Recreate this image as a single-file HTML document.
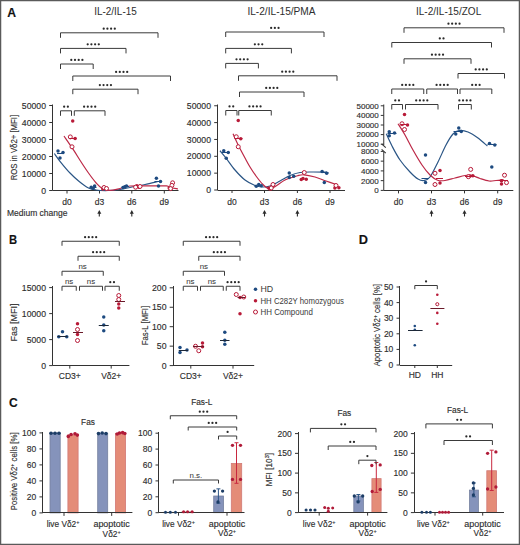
<!DOCTYPE html><html><head><meta charset="utf-8"><style>html,body{margin:0;padding:0;background:#fff;}svg{display:block;font-family:"Liberation Sans",sans-serif;}</style></head><body>
<svg width="520" height="545" viewBox="0 0 520 545" font-family="Liberation Sans"><style>text{stroke:#2e2e2e;stroke-width:0.14px;}</style>
<rect x="0" y="0" width="520" height="545" fill="#fff"/>
<rect x="0.6" y="0.6" width="518.8" height="543.8" fill="none" stroke="#5a5a5a" stroke-width="1.3"/>
<text x="11.6" y="17.09" font-size="12.2" text-anchor="middle" fill="#111" font-weight="bold" stroke="#111" stroke-width="0.35">A</text>
<text x="13" y="244.09" font-size="12.2" text-anchor="middle" fill="#111" font-weight="bold" stroke="#111" stroke-width="0.35" textLength="8.12" lengthAdjust="spacingAndGlyphs">B</text>
<text x="13.3" y="406.89" font-size="12.2" text-anchor="middle" fill="#111" font-weight="bold" stroke="#111" stroke-width="0.35" textLength="8.72" lengthAdjust="spacingAndGlyphs">C</text>
<text x="363.4" y="244.39" font-size="12.2" text-anchor="middle" fill="#111" font-weight="bold" stroke="#111" stroke-width="0.35" textLength="9.22" lengthAdjust="spacingAndGlyphs">D</text>
<text x="115.5" y="15.12" font-size="10.6" text-anchor="middle" fill="#2e2e2e" font-weight="normal" style="stroke-width:0" textLength="42.46" lengthAdjust="spacingAndGlyphs">IL-2/IL-15</text>
<text x="281.5" y="15.22" font-size="10.6" text-anchor="middle" fill="#2e2e2e" font-weight="normal" style="stroke-width:0" textLength="68.16" lengthAdjust="spacingAndGlyphs">IL-2/IL-15/PMA</text>
<text x="448.6" y="15.22" font-size="10.6" text-anchor="middle" fill="#2e2e2e" font-weight="normal" style="stroke-width:0" textLength="65.26" lengthAdjust="spacingAndGlyphs">IL-2/IL-15/ZOL</text>
<line x1="52.5" y1="104.5" x2="52.5" y2="190.5" stroke="#333333" stroke-width="1"/>
<line x1="49.2" y1="190.5" x2="52.5" y2="190.5" stroke="#333333" stroke-width="1"/>
<text x="46" y="193.63" font-size="8.7" text-anchor="end" fill="#2e2e2e" font-weight="normal" >0</text>
<line x1="49.2" y1="173.5" x2="52.5" y2="173.5" stroke="#333333" stroke-width="1"/>
<text x="46" y="176.63" font-size="8.7" text-anchor="end" fill="#2e2e2e" font-weight="normal" >10000</text>
<line x1="49.2" y1="156.5" x2="52.5" y2="156.5" stroke="#333333" stroke-width="1"/>
<text x="46" y="159.63" font-size="8.7" text-anchor="end" fill="#2e2e2e" font-weight="normal" >20000</text>
<line x1="49.2" y1="139.5" x2="52.5" y2="139.5" stroke="#333333" stroke-width="1"/>
<text x="46" y="142.63" font-size="8.7" text-anchor="end" fill="#2e2e2e" font-weight="normal" >30000</text>
<line x1="49.2" y1="122.5" x2="52.5" y2="122.5" stroke="#333333" stroke-width="1"/>
<text x="46" y="125.63" font-size="8.7" text-anchor="end" fill="#2e2e2e" font-weight="normal" >40000</text>
<line x1="49.2" y1="105.5" x2="52.5" y2="105.5" stroke="#333333" stroke-width="1"/>
<text x="46" y="108.63" font-size="8.7" text-anchor="end" fill="#2e2e2e" font-weight="normal" >50000</text>
<line x1="52.5" y1="190.5" x2="178.5" y2="190.5" stroke="#333333" stroke-width="1"/>
<line x1="67" y1="190.5" x2="67" y2="193.5" stroke="#333333" stroke-width="1"/>
<line x1="99.5" y1="190.5" x2="99.5" y2="193.5" stroke="#333333" stroke-width="1"/>
<line x1="131.8" y1="190.5" x2="131.8" y2="193.5" stroke="#333333" stroke-width="1"/>
<line x1="164.3" y1="190.5" x2="164.3" y2="193.5" stroke="#333333" stroke-width="1"/>
<text x="67" y="205.06" font-size="8.5" text-anchor="middle" fill="#2e2e2e" font-weight="normal" >d0</text>
<text x="99.5" y="205.06" font-size="8.5" text-anchor="middle" fill="#2e2e2e" font-weight="normal" >d3</text>
<text x="131.8" y="205.06" font-size="8.5" text-anchor="middle" fill="#2e2e2e" font-weight="normal" >d6</text>
<text x="164.3" y="205.06" font-size="8.5" text-anchor="middle" fill="#2e2e2e" font-weight="normal" >d9</text>
<text x="14.3" y="150.7" font-size="8.6" text-anchor="middle" fill="#2e2e2e" font-weight="normal" transform="rotate(-90 14.3 147.6)"  textLength="65.36" lengthAdjust="spacingAndGlyphs">ROS in Vδ2+ [MFI]</text>
<path d="M60.5 37.8V32.8H158V37.8" stroke="#3a3a3a" stroke-width="1" fill="none" />
<circle cx="103.7" cy="28.7" r="1.12" fill="#2a2a2a"/>
<circle cx="107.4" cy="28.7" r="1.12" fill="#2a2a2a"/>
<circle cx="111.1" cy="28.7" r="1.12" fill="#2a2a2a"/>
<circle cx="114.8" cy="28.7" r="1.12" fill="#2a2a2a"/>
<path d="M60.5 53.4V48.4H126V53.4" stroke="#3a3a3a" stroke-width="1" fill="none" />
<circle cx="87.7" cy="44.3" r="1.12" fill="#2a2a2a"/>
<circle cx="91.4" cy="44.3" r="1.12" fill="#2a2a2a"/>
<circle cx="95.1" cy="44.3" r="1.12" fill="#2a2a2a"/>
<circle cx="98.8" cy="44.3" r="1.12" fill="#2a2a2a"/>
<path d="M60.5 69V64H93.2V69" stroke="#3a3a3a" stroke-width="1" fill="none" />
<circle cx="71.3" cy="59.9" r="1.12" fill="#2a2a2a"/>
<circle cx="75" cy="59.9" r="1.12" fill="#2a2a2a"/>
<circle cx="78.7" cy="59.9" r="1.12" fill="#2a2a2a"/>
<circle cx="82.4" cy="59.9" r="1.12" fill="#2a2a2a"/>
<path d="M72.8 81V76H170.5V81" stroke="#3a3a3a" stroke-width="1" fill="none" />
<circle cx="116.1" cy="71.9" r="1.12" fill="#2a2a2a"/>
<circle cx="119.8" cy="71.9" r="1.12" fill="#2a2a2a"/>
<circle cx="123.5" cy="71.9" r="1.12" fill="#2a2a2a"/>
<circle cx="127.2" cy="71.9" r="1.12" fill="#2a2a2a"/>
<path d="M72.8 94.2V89.2H138V94.2" stroke="#3a3a3a" stroke-width="1" fill="none" />
<circle cx="99.85" cy="85.1" r="1.12" fill="#2a2a2a"/>
<circle cx="103.55" cy="85.1" r="1.12" fill="#2a2a2a"/>
<circle cx="107.25" cy="85.1" r="1.12" fill="#2a2a2a"/>
<circle cx="110.95" cy="85.1" r="1.12" fill="#2a2a2a"/>
<path d="M60.5 115.8V110.8H71.5V115.8" stroke="#3a3a3a" stroke-width="1" fill="none" />
<circle cx="64.15" cy="106.7" r="1.12" fill="#2a2a2a"/>
<circle cx="67.85" cy="106.7" r="1.12" fill="#2a2a2a"/>
<path d="M74.3 115.8V110.8H105V115.8" stroke="#3a3a3a" stroke-width="1" fill="none" />
<circle cx="84.1" cy="106.7" r="1.12" fill="#2a2a2a"/>
<circle cx="87.8" cy="106.7" r="1.12" fill="#2a2a2a"/>
<circle cx="91.5" cy="106.7" r="1.12" fill="#2a2a2a"/>
<circle cx="95.2" cy="106.7" r="1.12" fill="#2a2a2a"/>
<path d="M54.3 153.5 C55.38 154.97 58.18 159.05 60.8 162.3 C63.42 165.55 66.93 169.8 70 173 C73.07 176.2 76.12 179 79.2 181.5 C82.28 184 85.7 186.58 88.5 188 C91.3 189.42 92.75 189.58 96 190 C99.25 190.42 104 190.58 108 190.5 C112 190.42 116 190.08 120 189.5 C124 188.92 127.83 187.83 132 187 C136.17 186.17 140.67 185.42 145 184.5 C149.33 183.58 155.83 182 158 181.5" stroke="#2a5585" stroke-width="1.2" fill="none" />
<path d="M64 136 C65.5 138.2 70.2 144.95 73 149.2 C75.8 153.45 78.22 157.53 80.8 161.5 C83.38 165.47 85.93 169.42 88.5 173 C91.07 176.58 93.9 180.42 96.2 183 C98.5 185.58 100 187.28 102.3 188.5 C104.6 189.72 107.05 190.3 110 190.3 C112.95 190.3 116.63 189.22 120 188.5 C123.37 187.78 125.2 186.43 130.2 186 C135.2 185.57 143.95 185.92 150 185.9 C156.05 185.88 163.17 185.63 166.5 185.9 C169.83 186.17 168.08 186.98 170 187.5 C171.92 188.02 176.67 188.75 178 189" stroke="#bc2846" stroke-width="1.2" fill="none" />
<circle cx="58" cy="151" r="1.75" fill="#1d4a80"/>
<circle cx="63" cy="152.5" r="1.75" fill="#1d4a80"/>
<circle cx="60" cy="158" r="1.75" fill="#1d4a80"/>
<line x1="57" y1="153.5" x2="64" y2="153.5" stroke="#1d4a80" stroke-width="1"/>
<circle cx="72.7" cy="121" r="1.75" fill="#b81a38"/>
<circle cx="75.1" cy="138.6" r="1.75" fill="#b81a38"/>
<circle cx="70.3" cy="136.9" r="2" fill="#fff" stroke="#b81a38" stroke-width="1"/>
<circle cx="72" cy="146.8" r="2" fill="#fff" stroke="#b81a38" stroke-width="1"/>
<line x1="69.5" y1="138.5" x2="76.5" y2="138.5" stroke="#b81a38" stroke-width="1"/>
<circle cx="91.2" cy="187.3" r="1.75" fill="#1d4a80"/>
<circle cx="94.6" cy="186" r="1.75" fill="#1d4a80"/>
<circle cx="93" cy="188.3" r="1.75" fill="#1d4a80"/>
<line x1="90" y1="187.5" x2="96.5" y2="187.5" stroke="#1d4a80" stroke-width="1"/>
<circle cx="102.8" cy="189" r="1.75" fill="#b81a38"/>
<circle cx="104" cy="187.5" r="2" fill="#fff" stroke="#b81a38" stroke-width="1"/>
<circle cx="106.5" cy="188.5" r="2" fill="#fff" stroke="#b81a38" stroke-width="1"/>
<circle cx="124.8" cy="186.8" r="1.75" fill="#1d4a80"/>
<circle cx="126.5" cy="186" r="1.75" fill="#1d4a80"/>
<circle cx="123" cy="187.6" r="1.75" fill="#1d4a80"/>
<line x1="122" y1="186.5" x2="129" y2="186.5" stroke="#1d4a80" stroke-width="1"/>
<circle cx="136.9" cy="185.8" r="1.75" fill="#b81a38"/>
<circle cx="138.9" cy="187.2" r="1.75" fill="#b81a38"/>
<circle cx="135.6" cy="187.2" r="2" fill="#fff" stroke="#b81a38" stroke-width="1"/>
<circle cx="140" cy="186.5" r="2" fill="#fff" stroke="#b81a38" stroke-width="1"/>
<circle cx="156.4" cy="178.2" r="1.75" fill="#1d4a80"/>
<circle cx="160.5" cy="181.4" r="1.75" fill="#1d4a80"/>
<circle cx="158.5" cy="185.9" r="1.75" fill="#1d4a80"/>
<line x1="154.5" y1="181.5" x2="161.5" y2="181.5" stroke="#1d4a80" stroke-width="1"/>
<circle cx="169.2" cy="187.9" r="1.75" fill="#b81a38"/>
<circle cx="172.6" cy="182.8" r="2" fill="#fff" stroke="#b81a38" stroke-width="1"/>
<circle cx="171.9" cy="185.4" r="2" fill="#fff" stroke="#b81a38" stroke-width="1"/>
<circle cx="170.6" cy="188.6" r="2" fill="#fff" stroke="#b81a38" stroke-width="1"/>
<line x1="217.5" y1="104.5" x2="217.5" y2="190" stroke="#333333" stroke-width="1"/>
<line x1="214.2" y1="190" x2="217.5" y2="190" stroke="#333333" stroke-width="1"/>
<text x="211" y="193.13" font-size="8.7" text-anchor="end" fill="#2e2e2e" font-weight="normal" >0</text>
<line x1="214.2" y1="173.15" x2="217.5" y2="173.15" stroke="#333333" stroke-width="1"/>
<text x="211" y="176.28" font-size="8.7" text-anchor="end" fill="#2e2e2e" font-weight="normal" >10000</text>
<line x1="214.2" y1="156.3" x2="217.5" y2="156.3" stroke="#333333" stroke-width="1"/>
<text x="211" y="159.43" font-size="8.7" text-anchor="end" fill="#2e2e2e" font-weight="normal" >20000</text>
<line x1="214.2" y1="139.45" x2="217.5" y2="139.45" stroke="#333333" stroke-width="1"/>
<text x="211" y="142.58" font-size="8.7" text-anchor="end" fill="#2e2e2e" font-weight="normal" >30000</text>
<line x1="214.2" y1="122.6" x2="217.5" y2="122.6" stroke="#333333" stroke-width="1"/>
<text x="211" y="125.73" font-size="8.7" text-anchor="end" fill="#2e2e2e" font-weight="normal" >40000</text>
<line x1="214.2" y1="105.75" x2="217.5" y2="105.75" stroke="#333333" stroke-width="1"/>
<text x="211" y="108.88" font-size="8.7" text-anchor="end" fill="#2e2e2e" font-weight="normal" >50000</text>
<line x1="217.5" y1="190.5" x2="345" y2="190.5" stroke="#333333" stroke-width="1"/>
<line x1="232" y1="190" x2="232" y2="193" stroke="#333333" stroke-width="1"/>
<line x1="264.5" y1="190" x2="264.5" y2="193" stroke="#333333" stroke-width="1"/>
<line x1="297.4" y1="190" x2="297.4" y2="193" stroke="#333333" stroke-width="1"/>
<line x1="330" y1="190" x2="330" y2="193" stroke="#333333" stroke-width="1"/>
<text x="232" y="205.06" font-size="8.5" text-anchor="middle" fill="#2e2e2e" font-weight="normal" >d0</text>
<text x="264.5" y="205.06" font-size="8.5" text-anchor="middle" fill="#2e2e2e" font-weight="normal" >d3</text>
<text x="297.4" y="205.06" font-size="8.5" text-anchor="middle" fill="#2e2e2e" font-weight="normal" >d6</text>
<text x="330" y="205.06" font-size="8.5" text-anchor="middle" fill="#2e2e2e" font-weight="normal" >d9</text>
<path d="M225.7 37V32H324V37" stroke="#3a3a3a" stroke-width="1" fill="none" />
<circle cx="271.15" cy="27.9" r="1.12" fill="#2a2a2a"/>
<circle cx="274.85" cy="27.9" r="1.12" fill="#2a2a2a"/>
<circle cx="278.55" cy="27.9" r="1.12" fill="#2a2a2a"/>
<path d="M225.7 53.4V48.4H291.4V53.4" stroke="#3a3a3a" stroke-width="1" fill="none" />
<circle cx="254.85" cy="44.3" r="1.12" fill="#2a2a2a"/>
<circle cx="258.55" cy="44.3" r="1.12" fill="#2a2a2a"/>
<circle cx="262.25" cy="44.3" r="1.12" fill="#2a2a2a"/>
<path d="M225.7 68.4V63.4H258.4V68.4" stroke="#3a3a3a" stroke-width="1" fill="none" />
<circle cx="236.5" cy="59.3" r="1.12" fill="#2a2a2a"/>
<circle cx="240.2" cy="59.3" r="1.12" fill="#2a2a2a"/>
<circle cx="243.9" cy="59.3" r="1.12" fill="#2a2a2a"/>
<circle cx="247.6" cy="59.3" r="1.12" fill="#2a2a2a"/>
<path d="M238.5 80.8V75.8H337V80.8" stroke="#3a3a3a" stroke-width="1" fill="none" />
<circle cx="282.2" cy="71.7" r="1.12" fill="#2a2a2a"/>
<circle cx="285.9" cy="71.7" r="1.12" fill="#2a2a2a"/>
<circle cx="289.6" cy="71.7" r="1.12" fill="#2a2a2a"/>
<circle cx="293.3" cy="71.7" r="1.12" fill="#2a2a2a"/>
<path d="M239.5 97V92H304V97" stroke="#3a3a3a" stroke-width="1" fill="none" />
<circle cx="266.2" cy="87.9" r="1.12" fill="#2a2a2a"/>
<circle cx="269.9" cy="87.9" r="1.12" fill="#2a2a2a"/>
<circle cx="273.6" cy="87.9" r="1.12" fill="#2a2a2a"/>
<circle cx="277.3" cy="87.9" r="1.12" fill="#2a2a2a"/>
<path d="M225.75 115.5V110.5H237V115.5" stroke="#3a3a3a" stroke-width="1" fill="none" />
<circle cx="229.53" cy="106.4" r="1.12" fill="#2a2a2a"/>
<circle cx="233.22" cy="106.4" r="1.12" fill="#2a2a2a"/>
<path d="M238.75 115.5V110.5H271.25V115.5" stroke="#3a3a3a" stroke-width="1" fill="none" />
<circle cx="249.45" cy="106.4" r="1.12" fill="#2a2a2a"/>
<circle cx="253.15" cy="106.4" r="1.12" fill="#2a2a2a"/>
<circle cx="256.85" cy="106.4" r="1.12" fill="#2a2a2a"/>
<circle cx="260.55" cy="106.4" r="1.12" fill="#2a2a2a"/>
<path d="M220 150.75 C221 151.96 223.5 154.79 226 158 C228.5 161.21 231.83 166.33 235 170 C238.17 173.67 241.67 177.42 245 180 C248.33 182.58 252.17 184.33 255 185.5 C257.83 186.67 259.5 186.92 262 187 C264.5 187.08 267 187 270 186 C273 185 276.67 182.75 280 181 C283.33 179.25 286.67 176.92 290 175.5 C293.33 174.08 296.33 173.08 300 172.5 C303.67 171.92 307.5 172.05 312 172 C316.5 171.95 324.5 172.17 327 172.2" stroke="#2a5585" stroke-width="1.2" fill="none" />
<path d="M233 133.75 C233.95 135.79 236.7 141.96 238.7 146 C240.7 150.04 243.17 154.58 245 158 C246.83 161.42 247.87 163.5 249.7 166.5 C251.53 169.5 253.78 173 256 176 C258.22 179 260.88 182.38 263 184.5 C265.12 186.62 266.58 188.5 268.75 188.75 C270.92 189 273.29 187.46 276 186 C278.71 184.54 281.42 181.71 285 180 C288.58 178.29 294.33 176.62 297.5 175.75 C300.67 174.88 301.08 174.59 304 174.8 C306.92 175.01 311.33 175.97 315 177 C318.67 178.03 322.33 179.7 326 181 C329.67 182.3 335.17 184.17 337 184.8" stroke="#bc2846" stroke-width="1.2" fill="none" />
<circle cx="223.75" cy="150.75" r="1.75" fill="#1d4a80"/>
<circle cx="228.25" cy="152.5" r="1.75" fill="#1d4a80"/>
<circle cx="226.25" cy="158.25" r="1.75" fill="#1d4a80"/>
<line x1="222" y1="152.5" x2="230" y2="152.5" stroke="#1d4a80" stroke-width="1"/>
<circle cx="238.25" cy="120.5" r="1.75" fill="#b81a38"/>
<circle cx="240.75" cy="138.75" r="1.75" fill="#b81a38"/>
<circle cx="236.25" cy="136.75" r="2" fill="#fff" stroke="#b81a38" stroke-width="1"/>
<circle cx="238.25" cy="146.75" r="2" fill="#fff" stroke="#b81a38" stroke-width="1"/>
<line x1="234.5" y1="138.5" x2="242.5" y2="138.5" stroke="#b81a38" stroke-width="1"/>
<circle cx="256.25" cy="186.25" r="1.75" fill="#1d4a80"/>
<circle cx="258.75" cy="184.5" r="1.75" fill="#1d4a80"/>
<circle cx="261.25" cy="185.75" r="1.75" fill="#1d4a80"/>
<circle cx="268.75" cy="188" r="1.75" fill="#b81a38"/>
<circle cx="270" cy="189" r="1.75" fill="#b81a38"/>
<circle cx="273" cy="184.5" r="2" fill="#fff" stroke="#b81a38" stroke-width="1"/>
<circle cx="271.25" cy="188" r="2" fill="#fff" stroke="#b81a38" stroke-width="1"/>
<circle cx="289.25" cy="173" r="1.75" fill="#1d4a80"/>
<circle cx="289.25" cy="177.5" r="1.75" fill="#1d4a80"/>
<circle cx="293.75" cy="176.25" r="1.75" fill="#1d4a80"/>
<circle cx="301.25" cy="179.5" r="1.75" fill="#b81a38"/>
<circle cx="306.25" cy="179.25" r="1.75" fill="#b81a38"/>
<circle cx="303" cy="178.5" r="1.75" fill="#b81a38"/>
<circle cx="304.25" cy="172.5" r="2" fill="#fff" stroke="#b81a38" stroke-width="1"/>
<circle cx="322.1" cy="171.6" r="1.75" fill="#1d4a80"/>
<circle cx="326.7" cy="173.3" r="1.75" fill="#1d4a80"/>
<circle cx="324.3" cy="182.6" r="1.75" fill="#1d4a80"/>
<line x1="321" y1="172.5" x2="328.5" y2="172.5" stroke="#1d4a80" stroke-width="1"/>
<circle cx="334.9" cy="188.1" r="1.75" fill="#b81a38"/>
<circle cx="338.9" cy="187.7" r="1.75" fill="#b81a38"/>
<circle cx="336" cy="185.5" r="2" fill="#fff" stroke="#b81a38" stroke-width="1"/>
<line x1="383.75" y1="104.5" x2="383.75" y2="145.2" stroke="#333333" stroke-width="1"/>
<line x1="383.75" y1="151.8" x2="383.75" y2="190.4" stroke="#333333" stroke-width="1"/>
<line x1="381.6" y1="143.8" x2="385.8" y2="147.6" stroke="#333333" stroke-width="1.1"/>
<line x1="381.6" y1="149.3" x2="385.8" y2="153.1" stroke="#333333" stroke-width="1.1"/>
<line x1="380.75" y1="105.8" x2="383.75" y2="105.8" stroke="#333333" stroke-width="1"/>
<text x="378.75" y="108.68" font-size="8" text-anchor="end" fill="#2e2e2e" font-weight="normal" >50000</text>
<line x1="380.75" y1="115.4" x2="383.75" y2="115.4" stroke="#333333" stroke-width="1"/>
<text x="378.75" y="118.28" font-size="8" text-anchor="end" fill="#2e2e2e" font-weight="normal" >40000</text>
<line x1="380.75" y1="125" x2="383.75" y2="125" stroke="#333333" stroke-width="1"/>
<text x="378.75" y="127.88" font-size="8" text-anchor="end" fill="#2e2e2e" font-weight="normal" >30000</text>
<line x1="380.75" y1="134.6" x2="383.75" y2="134.6" stroke="#333333" stroke-width="1"/>
<text x="378.75" y="137.48" font-size="8" text-anchor="end" fill="#2e2e2e" font-weight="normal" >20000</text>
<line x1="380.75" y1="144.2" x2="383.75" y2="144.2" stroke="#333333" stroke-width="1"/>
<text x="378.75" y="147.08" font-size="8" text-anchor="end" fill="#2e2e2e" font-weight="normal" >10000</text>
<line x1="380.75" y1="151.4" x2="383.75" y2="151.4" stroke="#333333" stroke-width="1"/>
<text x="378.75" y="154.28" font-size="8" text-anchor="end" fill="#2e2e2e" font-weight="normal" >8000</text>
<line x1="380.75" y1="161.15" x2="383.75" y2="161.15" stroke="#333333" stroke-width="1"/>
<text x="378.75" y="164.03" font-size="8" text-anchor="end" fill="#2e2e2e" font-weight="normal" >6000</text>
<line x1="380.75" y1="170.9" x2="383.75" y2="170.9" stroke="#333333" stroke-width="1"/>
<text x="378.75" y="173.78" font-size="8" text-anchor="end" fill="#2e2e2e" font-weight="normal" >4000</text>
<line x1="380.75" y1="180.65" x2="383.75" y2="180.65" stroke="#333333" stroke-width="1"/>
<text x="378.75" y="183.53" font-size="8" text-anchor="end" fill="#2e2e2e" font-weight="normal" >2000</text>
<line x1="380.75" y1="190.4" x2="383.75" y2="190.4" stroke="#333333" stroke-width="1"/>
<text x="378.75" y="193.28" font-size="8" text-anchor="end" fill="#2e2e2e" font-weight="normal" >0</text>
<line x1="383.75" y1="190.5" x2="513.3" y2="190.5" stroke="#333333" stroke-width="1"/>
<line x1="398.5" y1="190.4" x2="398.5" y2="193.4" stroke="#333333" stroke-width="1"/>
<line x1="431.5" y1="190.4" x2="431.5" y2="193.4" stroke="#333333" stroke-width="1"/>
<line x1="464.5" y1="190.4" x2="464.5" y2="193.4" stroke="#333333" stroke-width="1"/>
<line x1="497.7" y1="190.4" x2="497.7" y2="193.4" stroke="#333333" stroke-width="1"/>
<text x="398.5" y="204.56" font-size="8.5" text-anchor="middle" fill="#2e2e2e" font-weight="normal" >d0</text>
<text x="431.5" y="204.56" font-size="8.5" text-anchor="middle" fill="#2e2e2e" font-weight="normal" >d3</text>
<text x="464.5" y="204.56" font-size="8.5" text-anchor="middle" fill="#2e2e2e" font-weight="normal" >d6</text>
<text x="497.7" y="204.56" font-size="8.5" text-anchor="middle" fill="#2e2e2e" font-weight="normal" >d9</text>
<path d="M404 32.8V27.8H504V32.8" stroke="#3a3a3a" stroke-width="1" fill="none" />
<circle cx="448.45" cy="23.7" r="1.12" fill="#2a2a2a"/>
<circle cx="452.15" cy="23.7" r="1.12" fill="#2a2a2a"/>
<circle cx="455.85" cy="23.7" r="1.12" fill="#2a2a2a"/>
<circle cx="459.55" cy="23.7" r="1.12" fill="#2a2a2a"/>
<path d="M391.8 47.5V42.5H491.5V47.5" stroke="#3a3a3a" stroke-width="1" fill="none" />
<circle cx="439.8" cy="38.4" r="1.12" fill="#2a2a2a"/>
<circle cx="443.5" cy="38.4" r="1.12" fill="#2a2a2a"/>
<path d="M404 63.8V58.8H471V63.8" stroke="#3a3a3a" stroke-width="1" fill="none" />
<circle cx="431.95" cy="54.7" r="1.12" fill="#2a2a2a"/>
<circle cx="435.65" cy="54.7" r="1.12" fill="#2a2a2a"/>
<circle cx="439.35" cy="54.7" r="1.12" fill="#2a2a2a"/>
<circle cx="443.05" cy="54.7" r="1.12" fill="#2a2a2a"/>
<path d="M458 78.5V73.5H504.5V78.5" stroke="#3a3a3a" stroke-width="1" fill="none" />
<circle cx="475.7" cy="69.4" r="1.12" fill="#2a2a2a"/>
<circle cx="479.4" cy="69.4" r="1.12" fill="#2a2a2a"/>
<circle cx="483.1" cy="69.4" r="1.12" fill="#2a2a2a"/>
<circle cx="486.8" cy="69.4" r="1.12" fill="#2a2a2a"/>
<path d="M391.75 94V89H423.75V94" stroke="#3a3a3a" stroke-width="1" fill="none" />
<circle cx="402.2" cy="84.9" r="1.12" fill="#2a2a2a"/>
<circle cx="405.9" cy="84.9" r="1.12" fill="#2a2a2a"/>
<circle cx="409.6" cy="84.9" r="1.12" fill="#2a2a2a"/>
<circle cx="413.3" cy="84.9" r="1.12" fill="#2a2a2a"/>
<path d="M426.75 94V89H457.5V94" stroke="#3a3a3a" stroke-width="1" fill="none" />
<circle cx="436.57" cy="84.9" r="1.12" fill="#2a2a2a"/>
<circle cx="440.27" cy="84.9" r="1.12" fill="#2a2a2a"/>
<circle cx="443.98" cy="84.9" r="1.12" fill="#2a2a2a"/>
<circle cx="447.68" cy="84.9" r="1.12" fill="#2a2a2a"/>
<path d="M460 94V89H491.8V94" stroke="#3a3a3a" stroke-width="1" fill="none" />
<circle cx="472.2" cy="84.9" r="1.12" fill="#2a2a2a"/>
<circle cx="475.9" cy="84.9" r="1.12" fill="#2a2a2a"/>
<circle cx="479.6" cy="84.9" r="1.12" fill="#2a2a2a"/>
<path d="M391.75 109.5V104.5H402.5V109.5" stroke="#3a3a3a" stroke-width="1" fill="none" />
<circle cx="395.27" cy="100.4" r="1.12" fill="#2a2a2a"/>
<circle cx="398.98" cy="100.4" r="1.12" fill="#2a2a2a"/>
<path d="M405.5 109.5V104.5H438V109.5" stroke="#3a3a3a" stroke-width="1" fill="none" />
<circle cx="416.2" cy="100.4" r="1.12" fill="#2a2a2a"/>
<circle cx="419.9" cy="100.4" r="1.12" fill="#2a2a2a"/>
<circle cx="423.6" cy="100.4" r="1.12" fill="#2a2a2a"/>
<circle cx="427.3" cy="100.4" r="1.12" fill="#2a2a2a"/>
<path d="M458.5 109.5V104.5H471.3V109.5" stroke="#3a3a3a" stroke-width="1" fill="none" />
<circle cx="459.35" cy="100.4" r="1.12" fill="#2a2a2a"/>
<circle cx="463.05" cy="100.4" r="1.12" fill="#2a2a2a"/>
<circle cx="466.75" cy="100.4" r="1.12" fill="#2a2a2a"/>
<circle cx="470.45" cy="100.4" r="1.12" fill="#2a2a2a"/>
<path d="M386.25 133.75 C387.21 135.79 389.71 141.62 392 146 C394.29 150.38 397 155.67 400 160 C403 164.33 407 168.83 410 172 C413 175.17 415.67 177.58 418 179 C420.33 180.42 422 180.83 424 180.5 C426 180.17 427.67 180.08 430 177 C432.33 173.92 435.33 167.33 438 162 C440.67 156.67 443.5 149.67 446 145 C448.5 140.33 450.73 136.43 453 134 C455.27 131.57 457.1 130.73 459.6 130.4 C462.1 130.07 464.93 130.73 468 132 C471.07 133.27 474.77 135.67 478 138 C481.23 140.33 485.83 144.67 487.4 146" stroke="#2a5585" stroke-width="1.2" fill="none" />
<path d="M398 123.75 C399.17 125.62 402.5 130.62 405 135 C407.5 139.38 410.17 145 413 150 C415.83 155 419.17 160.83 422 165 C424.83 169.17 427.4 172.47 430 175 C432.6 177.53 435.1 179.28 437.6 180.2 C440.1 181.12 442.1 180.87 445 180.5 C447.9 180.13 451.67 178.83 455 178 C458.33 177.17 462.17 175.92 465 175.5 C467.83 175.08 469.5 175 472 175.5 C474.5 176 477.17 177.58 480 178.5 C482.83 179.42 486.33 180.67 489 181 C491.67 181.33 493.57 180.73 496 180.5 C498.43 180.27 502.33 179.75 503.6 179.6" stroke="#bc2846" stroke-width="1.2" fill="none" />
<circle cx="389.25" cy="131.75" r="1.75" fill="#1d4a80"/>
<circle cx="394.5" cy="133" r="1.75" fill="#1d4a80"/>
<circle cx="389.25" cy="135.75" r="1.75" fill="#1d4a80"/>
<line x1="387.5" y1="133.5" x2="396.5" y2="133.5" stroke="#1d4a80" stroke-width="1"/>
<circle cx="404.5" cy="114.5" r="1.75" fill="#b81a38"/>
<circle cx="407.5" cy="125" r="1.75" fill="#b81a38"/>
<circle cx="402" cy="123.75" r="2" fill="#fff" stroke="#b81a38" stroke-width="1"/>
<circle cx="404.5" cy="129.5" r="2" fill="#fff" stroke="#b81a38" stroke-width="1"/>
<line x1="400.5" y1="124.5" x2="409" y2="124.5" stroke="#b81a38" stroke-width="1"/>
<circle cx="425.5" cy="155" r="1.75" fill="#1d4a80"/>
<circle cx="425.5" cy="182.5" r="1.75" fill="#1d4a80"/>
<line x1="421.5" y1="178.5" x2="429" y2="178.5" stroke="#1d4a80" stroke-width="1"/>
<circle cx="440" cy="170.5" r="1.75" fill="#b81a38"/>
<circle cx="440" cy="183" r="1.75" fill="#b81a38"/>
<circle cx="435" cy="173.25" r="2" fill="#fff" stroke="#b81a38" stroke-width="1"/>
<circle cx="435" cy="184.5" r="2" fill="#fff" stroke="#b81a38" stroke-width="1"/>
<line x1="436" y1="178.5" x2="443" y2="178.5" stroke="#b81a38" stroke-width="1"/>
<circle cx="458.75" cy="128" r="1.75" fill="#1d4a80"/>
<circle cx="455.75" cy="134" r="1.75" fill="#1d4a80"/>
<circle cx="461.25" cy="131.5" r="1.75" fill="#1d4a80"/>
<line x1="453.5" y1="131.5" x2="463" y2="131.5" stroke="#1d4a80" stroke-width="1"/>
<circle cx="472.8" cy="175.8" r="1.75" fill="#b81a38"/>
<circle cx="470" cy="176" r="1.75" fill="#b81a38"/>
<circle cx="470.7" cy="169.4" r="2" fill="#fff" stroke="#b81a38" stroke-width="1"/>
<circle cx="468.4" cy="176.7" r="2" fill="#fff" stroke="#b81a38" stroke-width="1"/>
<line x1="465" y1="176.5" x2="475" y2="176.5" stroke="#b81a38" stroke-width="1"/>
<circle cx="489.5" cy="143.6" r="1.75" fill="#1d4a80"/>
<circle cx="494.8" cy="145" r="1.75" fill="#1d4a80"/>
<circle cx="491.8" cy="167" r="1.75" fill="#1d4a80"/>
<line x1="487.5" y1="144.5" x2="496.5" y2="144.5" stroke="#1d4a80" stroke-width="1"/>
<circle cx="501.5" cy="180.8" r="1.75" fill="#b81a38"/>
<circle cx="501.5" cy="184" r="1.75" fill="#b81a38"/>
<circle cx="504.5" cy="175.2" r="2" fill="#fff" stroke="#b81a38" stroke-width="1"/>
<circle cx="506.5" cy="182.6" r="2" fill="#fff" stroke="#b81a38" stroke-width="1"/>
<line x1="499" y1="180.5" x2="508" y2="180.5" stroke="#b81a38" stroke-width="1"/>
<text x="7" y="216.06" font-size="8.5" text-anchor="start" fill="#2e2e2e" font-weight="normal" >Medium change</text>
<line x1="99.3" y1="212.5" x2="99.3" y2="216.5" stroke="#2a2a2a" stroke-width="1.1"/>
<path d="M97.3 213.8L99.3 210L101.3 213.8Z" fill="#2a2a2a"/>
<line x1="131.8" y1="212.5" x2="131.8" y2="216.5" stroke="#2a2a2a" stroke-width="1.1"/>
<path d="M129.8 213.8L131.8 210L133.8 213.8Z" fill="#2a2a2a"/>
<line x1="264.5" y1="212.5" x2="264.5" y2="216.5" stroke="#2a2a2a" stroke-width="1.1"/>
<path d="M262.5 213.8L264.5 210L266.5 213.8Z" fill="#2a2a2a"/>
<line x1="297.4" y1="212.5" x2="297.4" y2="216.5" stroke="#2a2a2a" stroke-width="1.1"/>
<path d="M295.4 213.8L297.4 210L299.4 213.8Z" fill="#2a2a2a"/>
<line x1="431.5" y1="212.5" x2="431.5" y2="216.5" stroke="#2a2a2a" stroke-width="1.1"/>
<path d="M429.5 213.8L431.5 210L433.5 213.8Z" fill="#2a2a2a"/>
<line x1="464.5" y1="212.5" x2="464.5" y2="216.5" stroke="#2a2a2a" stroke-width="1.1"/>
<path d="M462.5 213.8L464.5 210L466.5 213.8Z" fill="#2a2a2a"/>
<line x1="52.5" y1="286" x2="52.5" y2="365.6" stroke="#333333" stroke-width="1"/>
<line x1="49.2" y1="365.6" x2="52.5" y2="365.6" stroke="#333333" stroke-width="1"/>
<text x="46" y="368.73" font-size="8.7" text-anchor="end" fill="#2e2e2e" font-weight="normal" >0</text>
<line x1="49.2" y1="339.6" x2="52.5" y2="339.6" stroke="#333333" stroke-width="1"/>
<text x="46" y="342.73" font-size="8.7" text-anchor="end" fill="#2e2e2e" font-weight="normal" >5000</text>
<line x1="49.2" y1="313.6" x2="52.5" y2="313.6" stroke="#333333" stroke-width="1"/>
<text x="46" y="316.73" font-size="8.7" text-anchor="end" fill="#2e2e2e" font-weight="normal" >10000</text>
<line x1="49.2" y1="287.6" x2="52.5" y2="287.6" stroke="#333333" stroke-width="1"/>
<text x="46" y="290.73" font-size="8.7" text-anchor="end" fill="#2e2e2e" font-weight="normal" >15000</text>
<line x1="52.5" y1="365.5" x2="129.4" y2="365.5" stroke="#333333" stroke-width="1"/>
<line x1="69.8" y1="365.6" x2="69.8" y2="368.6" stroke="#333333" stroke-width="1"/>
<line x1="111.2" y1="365.6" x2="111.2" y2="368.6" stroke="#333333" stroke-width="1"/>
<text x="69.8" y="379.06" font-size="8.5" text-anchor="middle" fill="#2e2e2e" font-weight="normal" >CD3+</text>
<text x="111.2" y="379.06" font-size="8.5" text-anchor="middle" fill="#2e2e2e" font-weight="normal" >Vδ2+</text>
<text x="14.3" y="325.56" font-size="8.5" text-anchor="middle" fill="#2e2e2e" font-weight="normal" transform="rotate(-90 14.3 322.5)"  textLength="37.85" lengthAdjust="spacingAndGlyphs">Fas [MFI]</text>
<path d="M62 245.75V241.25H119.25V245.75" stroke="#3a3a3a" stroke-width="1" fill="none" />
<circle cx="85.08" cy="237.15" r="1.12" fill="#2a2a2a"/>
<circle cx="88.78" cy="237.15" r="1.12" fill="#2a2a2a"/>
<circle cx="92.47" cy="237.15" r="1.12" fill="#2a2a2a"/>
<circle cx="96.17" cy="237.15" r="1.12" fill="#2a2a2a"/>
<path d="M78 260.75V256.25H119.25V260.75" stroke="#3a3a3a" stroke-width="1" fill="none" />
<circle cx="93.08" cy="252.15" r="1.12" fill="#2a2a2a"/>
<circle cx="96.78" cy="252.15" r="1.12" fill="#2a2a2a"/>
<circle cx="100.47" cy="252.15" r="1.12" fill="#2a2a2a"/>
<circle cx="104.17" cy="252.15" r="1.12" fill="#2a2a2a"/>
<path d="M62 275.75V271.25H103.25V275.75" stroke="#3a3a3a" stroke-width="1" fill="none" />
<text x="82.62" y="269.49" font-size="7.9" text-anchor="middle" fill="#3a3a3a" font-weight="normal" style="stroke-width:0.05px">ns</text>
<path d="M62 290.75V286.25H76.25V290.75" stroke="#3a3a3a" stroke-width="1" fill="none" />
<text x="69.12" y="284.49" font-size="7.9" text-anchor="middle" fill="#3a3a3a" font-weight="normal" style="stroke-width:0.05px">ns</text>
<path d="M79.5 290.75V286.25H102.5V290.75" stroke="#3a3a3a" stroke-width="1" fill="none" />
<text x="91" y="284.49" font-size="7.9" text-anchor="middle" fill="#3a3a3a" font-weight="normal" style="stroke-width:0.05px">ns</text>
<path d="M105 290.75V286.25H119.25V290.75" stroke="#3a3a3a" stroke-width="1" fill="none" />
<circle cx="110.28" cy="282.15" r="1.12" fill="#2a2a2a"/>
<circle cx="113.97" cy="282.15" r="1.12" fill="#2a2a2a"/>
<circle cx="62.5" cy="331.75" r="1.75" fill="#1d4a80"/>
<circle cx="58.75" cy="336.75" r="1.75" fill="#1d4a80"/>
<circle cx="66.75" cy="336.75" r="1.75" fill="#1d4a80"/>
<line x1="57.5" y1="336.5" x2="67.5" y2="336.5" stroke="#1d2838" stroke-width="1"/>
<circle cx="77.5" cy="323.75" r="1.75" fill="#b81a38"/>
<circle cx="77.5" cy="334.5" r="1.75" fill="#b81a38"/>
<circle cx="77.5" cy="329.5" r="2" fill="#fff" stroke="#b81a38" stroke-width="1"/>
<circle cx="77.5" cy="340.5" r="2" fill="#fff" stroke="#b81a38" stroke-width="1"/>
<line x1="73" y1="332.5" x2="83" y2="332.5" stroke="#6a1a2a" stroke-width="1"/>
<circle cx="103.75" cy="317" r="1.75" fill="#1d4a80"/>
<circle cx="103.75" cy="325" r="1.75" fill="#1d4a80"/>
<circle cx="103.75" cy="330.75" r="1.75" fill="#1d4a80"/>
<line x1="98.75" y1="325.5" x2="108.75" y2="325.5" stroke="#1d2838" stroke-width="1"/>
<circle cx="118.75" cy="304" r="1.75" fill="#b81a38"/>
<circle cx="118.75" cy="308" r="1.75" fill="#b81a38"/>
<circle cx="118.75" cy="295.5" r="2" fill="#fff" stroke="#b81a38" stroke-width="1"/>
<circle cx="118.75" cy="299.5" r="2" fill="#fff" stroke="#b81a38" stroke-width="1"/>
<line x1="115" y1="301.5" x2="125" y2="301.5" stroke="#6a1a2a" stroke-width="1"/>
<line x1="173.5" y1="286" x2="173.5" y2="365.6" stroke="#333333" stroke-width="1"/>
<line x1="169.7" y1="365.6" x2="173" y2="365.6" stroke="#333333" stroke-width="1"/>
<text x="166.5" y="368.73" font-size="8.7" text-anchor="end" fill="#2e2e2e" font-weight="normal" >0</text>
<line x1="169.7" y1="346.15" x2="173" y2="346.15" stroke="#333333" stroke-width="1"/>
<text x="166.5" y="349.28" font-size="8.7" text-anchor="end" fill="#2e2e2e" font-weight="normal" >50</text>
<line x1="169.7" y1="326.7" x2="173" y2="326.7" stroke="#333333" stroke-width="1"/>
<text x="166.5" y="329.83" font-size="8.7" text-anchor="end" fill="#2e2e2e" font-weight="normal" >100</text>
<line x1="169.7" y1="307.25" x2="173" y2="307.25" stroke="#333333" stroke-width="1"/>
<text x="166.5" y="310.38" font-size="8.7" text-anchor="end" fill="#2e2e2e" font-weight="normal" >150</text>
<line x1="169.7" y1="287.8" x2="173" y2="287.8" stroke="#333333" stroke-width="1"/>
<text x="166.5" y="290.93" font-size="8.7" text-anchor="end" fill="#2e2e2e" font-weight="normal" >200</text>
<line x1="173" y1="365.5" x2="254.2" y2="365.5" stroke="#333333" stroke-width="1"/>
<line x1="190.8" y1="365.6" x2="190.8" y2="368.6" stroke="#333333" stroke-width="1"/>
<line x1="233" y1="365.6" x2="233" y2="368.6" stroke="#333333" stroke-width="1"/>
<text x="190.8" y="378.56" font-size="8.5" text-anchor="middle" fill="#2e2e2e" font-weight="normal" >CD3+</text>
<text x="233" y="378.56" font-size="8.5" text-anchor="middle" fill="#2e2e2e" font-weight="normal" >Vδ2+</text>
<text x="145" y="328.56" font-size="8.5" text-anchor="middle" fill="#2e2e2e" font-weight="normal" transform="rotate(-90 145 325.5)"  textLength="39.35" lengthAdjust="spacingAndGlyphs">Fas-L [MFI]</text>
<path d="M183.25 245.75V241.25H240V245.75" stroke="#3a3a3a" stroke-width="1" fill="none" />
<circle cx="206.07" cy="237.15" r="1.12" fill="#2a2a2a"/>
<circle cx="209.78" cy="237.15" r="1.12" fill="#2a2a2a"/>
<circle cx="213.47" cy="237.15" r="1.12" fill="#2a2a2a"/>
<circle cx="217.18" cy="237.15" r="1.12" fill="#2a2a2a"/>
<path d="M198.75 260.75V256.25H240V260.75" stroke="#3a3a3a" stroke-width="1" fill="none" />
<circle cx="213.82" cy="252.15" r="1.12" fill="#2a2a2a"/>
<circle cx="217.53" cy="252.15" r="1.12" fill="#2a2a2a"/>
<circle cx="221.22" cy="252.15" r="1.12" fill="#2a2a2a"/>
<circle cx="224.93" cy="252.15" r="1.12" fill="#2a2a2a"/>
<path d="M183.25 275.75V271.25H224.5V275.75" stroke="#3a3a3a" stroke-width="1" fill="none" />
<text x="203.88" y="269.49" font-size="7.9" text-anchor="middle" fill="#3a3a3a" font-weight="normal" style="stroke-width:0.05px">ns</text>
<path d="M183.25 290.75V286.25H197.5V290.75" stroke="#3a3a3a" stroke-width="1" fill="none" />
<text x="190.38" y="284.49" font-size="7.9" text-anchor="middle" fill="#3a3a3a" font-weight="normal" style="stroke-width:0.05px">ns</text>
<path d="M200.5 290.75V286.25H223.25V290.75" stroke="#3a3a3a" stroke-width="1" fill="none" />
<text x="211.88" y="284.49" font-size="7.9" text-anchor="middle" fill="#3a3a3a" font-weight="normal" style="stroke-width:0.05px">ns</text>
<path d="M226.25 290.75V286.25H240V290.75" stroke="#3a3a3a" stroke-width="1" fill="none" />
<circle cx="227.57" cy="282.15" r="1.12" fill="#2a2a2a"/>
<circle cx="231.28" cy="282.15" r="1.12" fill="#2a2a2a"/>
<circle cx="234.97" cy="282.15" r="1.12" fill="#2a2a2a"/>
<circle cx="238.68" cy="282.15" r="1.12" fill="#2a2a2a"/>
<circle cx="180" cy="347.5" r="1.75" fill="#1d4a80"/>
<circle cx="180" cy="352.5" r="1.75" fill="#1d4a80"/>
<circle cx="187" cy="350" r="1.75" fill="#1d4a80"/>
<line x1="178.75" y1="350.5" x2="188" y2="350.5" stroke="#1d2838" stroke-width="1"/>
<circle cx="202.5" cy="343" r="1.75" fill="#b81a38"/>
<circle cx="202.5" cy="346.75" r="1.75" fill="#b81a38"/>
<circle cx="195.5" cy="346.25" r="2" fill="#fff" stroke="#b81a38" stroke-width="1"/>
<circle cx="198.75" cy="350.75" r="2" fill="#fff" stroke="#b81a38" stroke-width="1"/>
<line x1="193" y1="346.5" x2="204" y2="346.5" stroke="#6a1a2a" stroke-width="1"/>
<circle cx="224.8" cy="332.2" r="1.75" fill="#1d4a80"/>
<circle cx="224.8" cy="340.2" r="1.75" fill="#1d4a80"/>
<circle cx="224.8" cy="344.2" r="1.75" fill="#1d4a80"/>
<line x1="220" y1="340.5" x2="229.5" y2="340.5" stroke="#1d2838" stroke-width="1"/>
<circle cx="240" cy="297.5" r="1.75" fill="#b81a38"/>
<circle cx="240" cy="313.75" r="1.75" fill="#b81a38"/>
<circle cx="236.25" cy="294.5" r="2" fill="#fff" stroke="#b81a38" stroke-width="1"/>
<circle cx="243.75" cy="297" r="2" fill="#fff" stroke="#b81a38" stroke-width="1"/>
<line x1="237.5" y1="297.5" x2="245" y2="297.5" stroke="#6a1a2a" stroke-width="1"/>
<circle cx="255.5" cy="289.2" r="1.75" fill="#1d4a80"/>
<circle cx="255.5" cy="300.7" r="1.75" fill="#b81a38"/>
<circle cx="255.5" cy="312" r="2" fill="#fff" stroke="#b81a38" stroke-width="1"/>
<text x="260.5" y="292.07" font-size="8.8" text-anchor="start" fill="#3a3a3a" font-weight="normal" style="stroke-width:0">HD</text>
<text x="260.5" y="303.87" font-size="8.8" text-anchor="start" fill="#3a3a3a" font-weight="normal" style="stroke-width:0" textLength="83.38" lengthAdjust="spacingAndGlyphs">HH C282Y homozygous</text>
<text x="260.5" y="315.37" font-size="8.8" text-anchor="start" fill="#3a3a3a" font-weight="normal" style="stroke-width:0" textLength="52.38" lengthAdjust="spacingAndGlyphs">HH Compound</text>
<line x1="399.5" y1="286" x2="399.5" y2="365" stroke="#333333" stroke-width="1"/>
<line x1="396.55" y1="365" x2="399.85" y2="365" stroke="#333333" stroke-width="1"/>
<text x="393.35" y="368.06" font-size="8.5" text-anchor="end" fill="#2e2e2e" font-weight="normal" >0</text>
<line x1="396.55" y1="349.4" x2="399.85" y2="349.4" stroke="#333333" stroke-width="1"/>
<text x="393.35" y="352.46" font-size="8.5" text-anchor="end" fill="#2e2e2e" font-weight="normal" >10</text>
<line x1="396.55" y1="333.8" x2="399.85" y2="333.8" stroke="#333333" stroke-width="1"/>
<text x="393.35" y="336.86" font-size="8.5" text-anchor="end" fill="#2e2e2e" font-weight="normal" >20</text>
<line x1="396.55" y1="318.2" x2="399.85" y2="318.2" stroke="#333333" stroke-width="1"/>
<text x="393.35" y="321.26" font-size="8.5" text-anchor="end" fill="#2e2e2e" font-weight="normal" >30</text>
<line x1="396.55" y1="302.6" x2="399.85" y2="302.6" stroke="#333333" stroke-width="1"/>
<text x="393.35" y="305.66" font-size="8.5" text-anchor="end" fill="#2e2e2e" font-weight="normal" >40</text>
<line x1="396.55" y1="287" x2="399.85" y2="287" stroke="#333333" stroke-width="1"/>
<text x="393.35" y="290.06" font-size="8.5" text-anchor="end" fill="#2e2e2e" font-weight="normal" >50</text>
<line x1="399.85" y1="365.5" x2="452.2" y2="365.5" stroke="#333333" stroke-width="1"/>
<line x1="414.8" y1="365" x2="414.8" y2="368" stroke="#333333" stroke-width="1"/>
<line x1="437.3" y1="365" x2="437.3" y2="368" stroke="#333333" stroke-width="1"/>
<text x="414.8" y="378.06" font-size="8.5" text-anchor="middle" fill="#2e2e2e" font-weight="normal" >HD</text>
<text x="437.3" y="378.06" font-size="8.5" text-anchor="middle" fill="#2e2e2e" font-weight="normal" >HH</text>
<text x="376.8" y="328.19" font-size="8.3" text-anchor="middle" fill="#2e2e2e" font-weight="normal" transform="rotate(-90 376.8 325.2)"  textLength="82.33" lengthAdjust="spacingAndGlyphs">Apoptotic Vδ2<tspan font-size="5.5" dy="-3">+</tspan><tspan dy="3"> cells [%]</tspan></text>
<path d="M414.8 289.2V285.5H437.3V289.2" stroke="#3a3a3a" stroke-width="1" fill="none" />
<circle cx="426.05" cy="281.4" r="1.12" fill="#2a2a2a"/>
<circle cx="414.8" cy="326" r="1.3" fill="#1d4a80"/>
<circle cx="414.8" cy="345.3" r="1.3" fill="#1d4a80"/>
<circle cx="414.8" cy="329.7" r="1.3" fill="#1d4a80"/>
<line x1="408" y1="330.5" x2="422.6" y2="330.5" stroke="#1d2838" stroke-width="1"/>
<circle cx="437.3" cy="294.8" r="1.3" fill="#b81a38"/>
<circle cx="437.3" cy="312.9" r="1.3" fill="#b81a38"/>
<circle cx="437.3" cy="323.8" r="1.3" fill="#b81a38"/>
<circle cx="437.3" cy="304.2" r="1.55" fill="#fff" stroke="#b81a38" stroke-width="1"/>
<line x1="430.4" y1="308.5" x2="444.4" y2="308.5" stroke="#6a1a2a" stroke-width="1"/>
<rect x="50" y="432.9" width="10.2" height="80" fill="#8593bb" stroke="#76819f" stroke-width="0.8"/>
<rect x="67.9" y="434.9" width="10.2" height="78" fill="#e48c78" stroke="#d27a76" stroke-width="0.8"/>
<rect x="97.7" y="433.3" width="10" height="79.6" fill="#8593bb" stroke="#76819f" stroke-width="0.8"/>
<rect x="115.4" y="433.54" width="10.2" height="79.36" fill="#e48c78" stroke="#d27a76" stroke-width="0.8"/>
<line x1="42.5" y1="432" x2="42.5" y2="512.9" stroke="#333333" stroke-width="1"/>
<line x1="39.45" y1="512.9" x2="42.75" y2="512.9" stroke="#333333" stroke-width="1"/>
<text x="36.25" y="515.96" font-size="8.5" text-anchor="end" fill="#2e2e2e" font-weight="normal" >0</text>
<line x1="39.45" y1="496.9" x2="42.75" y2="496.9" stroke="#333333" stroke-width="1"/>
<text x="36.25" y="499.96" font-size="8.5" text-anchor="end" fill="#2e2e2e" font-weight="normal" >20</text>
<line x1="39.45" y1="480.9" x2="42.75" y2="480.9" stroke="#333333" stroke-width="1"/>
<text x="36.25" y="483.96" font-size="8.5" text-anchor="end" fill="#2e2e2e" font-weight="normal" >40</text>
<line x1="39.45" y1="464.9" x2="42.75" y2="464.9" stroke="#333333" stroke-width="1"/>
<text x="36.25" y="467.96" font-size="8.5" text-anchor="end" fill="#2e2e2e" font-weight="normal" >60</text>
<line x1="39.45" y1="448.9" x2="42.75" y2="448.9" stroke="#333333" stroke-width="1"/>
<text x="36.25" y="451.96" font-size="8.5" text-anchor="end" fill="#2e2e2e" font-weight="normal" >80</text>
<line x1="39.45" y1="432.9" x2="42.75" y2="432.9" stroke="#333333" stroke-width="1"/>
<text x="36.25" y="435.96" font-size="8.5" text-anchor="end" fill="#2e2e2e" font-weight="normal" >100</text>
<line x1="42.75" y1="512.5" x2="132.4" y2="512.5" stroke="#333333" stroke-width="1"/>
<line x1="64" y1="512.9" x2="64" y2="515.9" stroke="#333333" stroke-width="1"/>
<line x1="111.7" y1="512.9" x2="111.7" y2="515.9" stroke="#333333" stroke-width="1"/>
<text x="88" y="425.49" font-size="8.3" text-anchor="middle" fill="#2e2e2e" font-weight="normal" >Fas</text>
<text x="13.8" y="474.29" font-size="8.3" text-anchor="middle" fill="#2e2e2e" font-weight="normal" transform="rotate(-90 13.8 471.3)"  textLength="77.83" lengthAdjust="spacingAndGlyphs">Positive Vδ2<tspan font-size="5.5" dy="-3">+</tspan><tspan dy="3"> cells [%]</tspan></text>
<circle cx="51" cy="433.3" r="1.8" fill="#1c3d66"/>
<circle cx="55" cy="433.3" r="1.8" fill="#1c3d66"/>
<circle cx="59" cy="433.3" r="1.8" fill="#1c3d66"/>
<circle cx="68.3" cy="436.4" r="1.8" fill="#b01a38"/>
<circle cx="71.1" cy="434.5" r="1.8" fill="#b01a38"/>
<circle cx="75" cy="433.8" r="1.8" fill="#b01a38"/>
<circle cx="77.3" cy="435.1" r="1.8" fill="#b01a38"/>
<circle cx="98.5" cy="433.6" r="1.8" fill="#1c3d66"/>
<circle cx="102.2" cy="433" r="1.8" fill="#1c3d66"/>
<circle cx="106" cy="433.6" r="1.8" fill="#1c3d66"/>
<circle cx="117.2" cy="434" r="1.8" fill="#b01a38"/>
<circle cx="119.5" cy="433" r="1.8" fill="#b01a38"/>
<circle cx="122.6" cy="432.6" r="1.8" fill="#b01a38"/>
<circle cx="124.8" cy="433.5" r="1.8" fill="#b01a38"/>
<text x="63" y="526.7" font-size="8.3" text-anchor="middle" fill="#2e2e2e">live Vδ2<tspan font-size="5.5" dy="-3">+</tspan></text>
<text x="111.6" y="527.19" font-size="8.3" text-anchor="middle" fill="#2e2e2e" font-weight="normal"  textLength="36.33" lengthAdjust="spacingAndGlyphs">apoptotic</text>
<text x="111.6" y="536.59" font-size="8.3" text-anchor="middle" fill="#2e2e2e">Vδ2<tspan font-size="5.5" dy="-3">+</tspan></text>
<rect x="213.7" y="496.01" width="9.9" height="16.69" fill="#8593bb" stroke="#76819f" stroke-width="0.8"/>
<rect x="231.3" y="463.41" width="10.4" height="49.29" fill="#e48c78" stroke="#d27a76" stroke-width="0.8"/>
<rect x="163.4" y="512.3" width="12.2" height="0.4" fill="#8593bb" stroke="#76819f" stroke-width="0.8"/>
<rect x="181.9" y="511.91" width="11.7" height="0.8" fill="#e48c78" stroke="#d27a76" stroke-width="0.8"/>
<line x1="218.4" y1="488.85" x2="218.4" y2="503.16" stroke="#2e5586" stroke-width="1"/>
<line x1="216.4" y1="488.85" x2="220.4" y2="488.85" stroke="#2e5586" stroke-width="1"/>
<line x1="216.4" y1="503.16" x2="220.4" y2="503.16" stroke="#2e5586" stroke-width="1"/>
<line x1="236.5" y1="442.74" x2="236.5" y2="483.29" stroke="#c8283f" stroke-width="1"/>
<line x1="234.5" y1="442.74" x2="238.5" y2="442.74" stroke="#c8283f" stroke-width="1"/>
<line x1="234.5" y1="483.29" x2="238.5" y2="483.29" stroke="#c8283f" stroke-width="1"/>
<line x1="158.5" y1="432" x2="158.5" y2="512.7" stroke="#333333" stroke-width="1"/>
<line x1="155.5" y1="512.7" x2="158.8" y2="512.7" stroke="#333333" stroke-width="1"/>
<text x="152.3" y="515.76" font-size="8.5" text-anchor="end" fill="#2e2e2e" font-weight="normal" >0</text>
<line x1="155.5" y1="496.8" x2="158.8" y2="496.8" stroke="#333333" stroke-width="1"/>
<text x="152.3" y="499.86" font-size="8.5" text-anchor="end" fill="#2e2e2e" font-weight="normal" >20</text>
<line x1="155.5" y1="480.9" x2="158.8" y2="480.9" stroke="#333333" stroke-width="1"/>
<text x="152.3" y="483.96" font-size="8.5" text-anchor="end" fill="#2e2e2e" font-weight="normal" >40</text>
<line x1="155.5" y1="465" x2="158.8" y2="465" stroke="#333333" stroke-width="1"/>
<text x="152.3" y="468.06" font-size="8.5" text-anchor="end" fill="#2e2e2e" font-weight="normal" >60</text>
<line x1="155.5" y1="449.1" x2="158.8" y2="449.1" stroke="#333333" stroke-width="1"/>
<text x="152.3" y="452.16" font-size="8.5" text-anchor="end" fill="#2e2e2e" font-weight="normal" >80</text>
<line x1="155.5" y1="433.2" x2="158.8" y2="433.2" stroke="#333333" stroke-width="1"/>
<text x="152.3" y="436.26" font-size="8.5" text-anchor="end" fill="#2e2e2e" font-weight="normal" >100</text>
<line x1="158.8" y1="512.5" x2="244.5" y2="512.5" stroke="#333333" stroke-width="1"/>
<line x1="178.5" y1="512.7" x2="178.5" y2="515.7" stroke="#333333" stroke-width="1"/>
<line x1="227" y1="512.7" x2="227" y2="515.7" stroke="#333333" stroke-width="1"/>
<text x="201.8" y="404.79" font-size="8.3" text-anchor="middle" fill="#2e2e2e" font-weight="normal" >Fas-L</text>
<path d="M170.3 419.25V415.75H236.7V419.25" stroke="#3a3a3a" stroke-width="1" fill="none" />
<circle cx="199.8" cy="411.65" r="1.12" fill="#2a2a2a"/>
<circle cx="203.5" cy="411.65" r="1.12" fill="#2a2a2a"/>
<circle cx="207.2" cy="411.65" r="1.12" fill="#2a2a2a"/>
<path d="M188.2 430.5V427H236.7V430.5" stroke="#3a3a3a" stroke-width="1" fill="none" />
<circle cx="208.75" cy="422.9" r="1.12" fill="#2a2a2a"/>
<circle cx="212.45" cy="422.9" r="1.12" fill="#2a2a2a"/>
<circle cx="216.15" cy="422.9" r="1.12" fill="#2a2a2a"/>
<path d="M218.5 439.5V436H236.7V439.5" stroke="#3a3a3a" stroke-width="1" fill="none" />
<circle cx="227.6" cy="431.9" r="1.12" fill="#2a2a2a"/>
<path d="M173.3 483.5V480H218.5V483.5" stroke="#3a3a3a" stroke-width="1" fill="none" />
<text x="195.9" y="478.24" font-size="7.9" text-anchor="middle" fill="#3a3a3a" font-weight="normal" style="stroke-width:0.05px">n.s.</text>
<circle cx="214.4" cy="491.1" r="1.65" fill="#1c3d66"/>
<circle cx="222.6" cy="491.1" r="1.65" fill="#1c3d66"/>
<circle cx="218" cy="502" r="1.65" fill="#1c3d66"/>
<circle cx="232.5" cy="445.3" r="1.65" fill="#b01a38"/>
<circle cx="240.5" cy="445.3" r="1.65" fill="#b01a38"/>
<circle cx="232.5" cy="479.4" r="1.65" fill="#b01a38"/>
<circle cx="240.5" cy="479.4" r="1.65" fill="#b01a38"/>
<circle cx="165.5" cy="512.2" r="1.5" fill="#1c3d66"/>
<circle cx="170.3" cy="512.2" r="1.5" fill="#1c3d66"/>
<circle cx="175.5" cy="512.2" r="1.5" fill="#1c3d66"/>
<circle cx="183.6" cy="511.8" r="1.5" fill="#b01a38"/>
<circle cx="187.6" cy="511.8" r="1.5" fill="#b01a38"/>
<circle cx="192.1" cy="511.8" r="1.5" fill="#b01a38"/>
<text x="178.5" y="526.7" font-size="8.3" text-anchor="middle" fill="#2e2e2e">live Vδ2<tspan font-size="5.5" dy="-3">+</tspan></text>
<text x="227" y="526.99" font-size="8.3" text-anchor="middle" fill="#2e2e2e" font-weight="normal"  textLength="36.33" lengthAdjust="spacingAndGlyphs">apoptotic</text>
<text x="227" y="535.99" font-size="8.3" text-anchor="middle" fill="#2e2e2e">Vδ2<tspan font-size="5.5" dy="-3">+</tspan></text>
<rect x="353.8" y="496" width="9.6" height="16.6" fill="#8593bb" stroke="#76819f" stroke-width="0.8"/>
<rect x="371.9" y="478.63" width="9.2" height="33.97" fill="#e48c78" stroke="#d27a76" stroke-width="0.8"/>
<line x1="358.4" y1="494.5" x2="358.4" y2="501" stroke="#2e5586" stroke-width="1"/>
<line x1="356.4" y1="494.5" x2="360.4" y2="494.5" stroke="#2e5586" stroke-width="1"/>
<line x1="356.4" y1="501" x2="360.4" y2="501" stroke="#2e5586" stroke-width="1"/>
<line x1="376.3" y1="462.5" x2="376.3" y2="492.4" stroke="#c8283f" stroke-width="1"/>
<line x1="374.3" y1="462.5" x2="378.3" y2="462.5" stroke="#c8283f" stroke-width="1"/>
<line x1="374.3" y1="492.4" x2="378.3" y2="492.4" stroke="#c8283f" stroke-width="1"/>
<line x1="298.5" y1="432" x2="298.5" y2="512.6" stroke="#333333" stroke-width="1"/>
<line x1="295" y1="512.6" x2="298.3" y2="512.6" stroke="#333333" stroke-width="1"/>
<text x="291.8" y="515.66" font-size="8.5" text-anchor="end" fill="#2e2e2e" font-weight="normal" >0</text>
<line x1="295" y1="492.85" x2="298.3" y2="492.85" stroke="#333333" stroke-width="1"/>
<text x="291.8" y="495.91" font-size="8.5" text-anchor="end" fill="#2e2e2e" font-weight="normal" >50</text>
<line x1="295" y1="473.1" x2="298.3" y2="473.1" stroke="#333333" stroke-width="1"/>
<text x="291.8" y="476.16" font-size="8.5" text-anchor="end" fill="#2e2e2e" font-weight="normal" >100</text>
<line x1="295" y1="453.35" x2="298.3" y2="453.35" stroke="#333333" stroke-width="1"/>
<text x="291.8" y="456.41" font-size="8.5" text-anchor="end" fill="#2e2e2e" font-weight="normal" >150</text>
<line x1="295" y1="433.6" x2="298.3" y2="433.6" stroke="#333333" stroke-width="1"/>
<text x="291.8" y="436.66" font-size="8.5" text-anchor="end" fill="#2e2e2e" font-weight="normal" >200</text>
<line x1="298.3" y1="512.5" x2="387.4" y2="512.5" stroke="#333333" stroke-width="1"/>
<line x1="319.2" y1="512.6" x2="319.2" y2="515.6" stroke="#333333" stroke-width="1"/>
<line x1="367.6" y1="512.6" x2="367.6" y2="515.6" stroke="#333333" stroke-width="1"/>
<text x="344.3" y="416.29" font-size="8.3" text-anchor="middle" fill="#2e2e2e" font-weight="normal" >Fas</text>
<text x="268.6" y="472.69" font-size="8.3" text-anchor="middle" fill="#2e2e2e" font-weight="normal" transform="rotate(-90 268.6 469.7)" >MFI [10<tspan font-size="5.5" dy="-3">3</tspan><tspan dy="3">]</tspan></text>
<path d="M310.4 432.4V428.4H376V432.4" stroke="#3a3a3a" stroke-width="1" fill="none" />
<circle cx="341.35" cy="424.3" r="1.12" fill="#2a2a2a"/>
<circle cx="345.05" cy="424.3" r="1.12" fill="#2a2a2a"/>
<path d="M328.2 450V446H376V450" stroke="#3a3a3a" stroke-width="1" fill="none" />
<circle cx="350.25" cy="441.9" r="1.12" fill="#2a2a2a"/>
<circle cx="353.95" cy="441.9" r="1.12" fill="#2a2a2a"/>
<path d="M358.8 464.2V460.2H376V464.2" stroke="#3a3a3a" stroke-width="1" fill="none" />
<circle cx="367.4" cy="456.1" r="1.12" fill="#2a2a2a"/>
<circle cx="354.3" cy="496" r="1.65" fill="#1c3d66"/>
<circle cx="362.7" cy="496" r="1.65" fill="#1c3d66"/>
<circle cx="358.1" cy="501.9" r="1.65" fill="#1c3d66"/>
<circle cx="371.8" cy="465.5" r="1.65" fill="#b01a38"/>
<circle cx="380.2" cy="464.9" r="1.65" fill="#b01a38"/>
<circle cx="372.2" cy="491.5" r="1.65" fill="#b01a38"/>
<circle cx="380.2" cy="489.4" r="1.65" fill="#b01a38"/>
<circle cx="306.1" cy="510" r="1.55" fill="#1c3d66"/>
<circle cx="310.5" cy="510" r="1.55" fill="#1c3d66"/>
<circle cx="315" cy="510" r="1.55" fill="#1c3d66"/>
<circle cx="324.7" cy="507.6" r="1.5" fill="#b01a38"/>
<circle cx="328.3" cy="508.3" r="1.5" fill="#b01a38"/>
<circle cx="332.7" cy="507.9" r="1.5" fill="#b01a38"/>
<circle cx="328.3" cy="511.3" r="1.5" fill="#b01a38"/>
<text x="319.2" y="526.7" font-size="8.3" text-anchor="middle" fill="#2e2e2e">live Vδ2<tspan font-size="5.5" dy="-3">+</tspan></text>
<text x="367.6" y="526.79" font-size="8.3" text-anchor="middle" fill="#2e2e2e" font-weight="normal"  textLength="36.33" lengthAdjust="spacingAndGlyphs">apoptotic</text>
<text x="367.6" y="535.99" font-size="8.3" text-anchor="middle" fill="#2e2e2e">Vδ2<tspan font-size="5.5" dy="-3">+</tspan></text>
<rect x="469.5" y="490.09" width="8.9" height="22.51" fill="#8593bb" stroke="#76819f" stroke-width="0.8"/>
<rect x="486.8" y="470.73" width="9.8" height="41.87" fill="#e48c78" stroke="#d27a76" stroke-width="0.8"/>
<line x1="473.9" y1="482.98" x2="473.9" y2="496.8" stroke="#2e5586" stroke-width="1"/>
<line x1="471.9" y1="482.98" x2="475.9" y2="482.98" stroke="#2e5586" stroke-width="1"/>
<line x1="471.9" y1="496.8" x2="475.9" y2="496.8" stroke="#2e5586" stroke-width="1"/>
<line x1="491.7" y1="450.19" x2="491.7" y2="490.48" stroke="#c8283f" stroke-width="1"/>
<line x1="489.7" y1="450.19" x2="493.7" y2="450.19" stroke="#c8283f" stroke-width="1"/>
<line x1="489.7" y1="490.48" x2="493.7" y2="490.48" stroke="#c8283f" stroke-width="1"/>
<line x1="414.5" y1="432" x2="414.5" y2="512.6" stroke="#333333" stroke-width="1"/>
<line x1="410.9" y1="512.6" x2="414.2" y2="512.6" stroke="#333333" stroke-width="1"/>
<text x="407.7" y="515.66" font-size="8.5" text-anchor="end" fill="#2e2e2e" font-weight="normal" >0</text>
<line x1="410.9" y1="492.85" x2="414.2" y2="492.85" stroke="#333333" stroke-width="1"/>
<text x="407.7" y="495.91" font-size="8.5" text-anchor="end" fill="#2e2e2e" font-weight="normal" >50</text>
<line x1="410.9" y1="473.1" x2="414.2" y2="473.1" stroke="#333333" stroke-width="1"/>
<text x="407.7" y="476.16" font-size="8.5" text-anchor="end" fill="#2e2e2e" font-weight="normal" >100</text>
<line x1="410.9" y1="453.35" x2="414.2" y2="453.35" stroke="#333333" stroke-width="1"/>
<text x="407.7" y="456.41" font-size="8.5" text-anchor="end" fill="#2e2e2e" font-weight="normal" >150</text>
<line x1="410.9" y1="433.6" x2="414.2" y2="433.6" stroke="#333333" stroke-width="1"/>
<text x="407.7" y="436.66" font-size="8.5" text-anchor="end" fill="#2e2e2e" font-weight="normal" >200</text>
<line x1="414.2" y1="512.5" x2="504" y2="512.5" stroke="#333333" stroke-width="1"/>
<line x1="435" y1="512.6" x2="435" y2="515.6" stroke="#333333" stroke-width="1"/>
<line x1="482.7" y1="512.6" x2="482.7" y2="515.6" stroke="#333333" stroke-width="1"/>
<text x="457.6" y="413.29" font-size="8.3" text-anchor="middle" fill="#2e2e2e" font-weight="normal" >Fas-L</text>
<path d="M425.9 428.4V423.9H492.4V428.4" stroke="#3a3a3a" stroke-width="1" fill="none" />
<circle cx="457.3" cy="419.8" r="1.12" fill="#2a2a2a"/>
<circle cx="461" cy="419.8" r="1.12" fill="#2a2a2a"/>
<path d="M444 445V440.5H492.4V445" stroke="#3a3a3a" stroke-width="1" fill="none" />
<circle cx="466.35" cy="436.4" r="1.12" fill="#2a2a2a"/>
<circle cx="470.05" cy="436.4" r="1.12" fill="#2a2a2a"/>
<circle cx="473.4" cy="482.9" r="1.65" fill="#1c3d66"/>
<circle cx="473.4" cy="488.4" r="1.65" fill="#1c3d66"/>
<circle cx="473.4" cy="495" r="1.65" fill="#1c3d66"/>
<circle cx="487.6" cy="453.3" r="1.65" fill="#b01a38"/>
<circle cx="495.9" cy="451.9" r="1.65" fill="#b01a38"/>
<circle cx="487.6" cy="489" r="1.65" fill="#b01a38"/>
<circle cx="495.9" cy="487" r="1.65" fill="#b01a38"/>
<circle cx="421.9" cy="512.2" r="1.5" fill="#1c3d66"/>
<circle cx="426.5" cy="512.2" r="1.5" fill="#1c3d66"/>
<circle cx="430.4" cy="512.2" r="1.5" fill="#1c3d66"/>
<circle cx="439.5" cy="512.2" r="1.5" fill="#b01a38"/>
<circle cx="442.5" cy="512.2" r="1.5" fill="#b01a38"/>
<circle cx="445.5" cy="512.2" r="1.5" fill="#b01a38"/>
<circle cx="448.6" cy="512.2" r="1.5" fill="#b01a38"/>
<text x="433.4" y="526.7" font-size="8.3" text-anchor="middle" fill="#2e2e2e">live Vδ2<tspan font-size="5.5" dy="-3">+</tspan></text>
<text x="482.5" y="526.79" font-size="8.3" text-anchor="middle" fill="#2e2e2e" font-weight="normal"  textLength="36.33" lengthAdjust="spacingAndGlyphs">apoptotic</text>
<text x="482.5" y="535.99" font-size="8.3" text-anchor="middle" fill="#2e2e2e">Vδ2<tspan font-size="5.5" dy="-3">+</tspan></text>
</svg></body></html>
